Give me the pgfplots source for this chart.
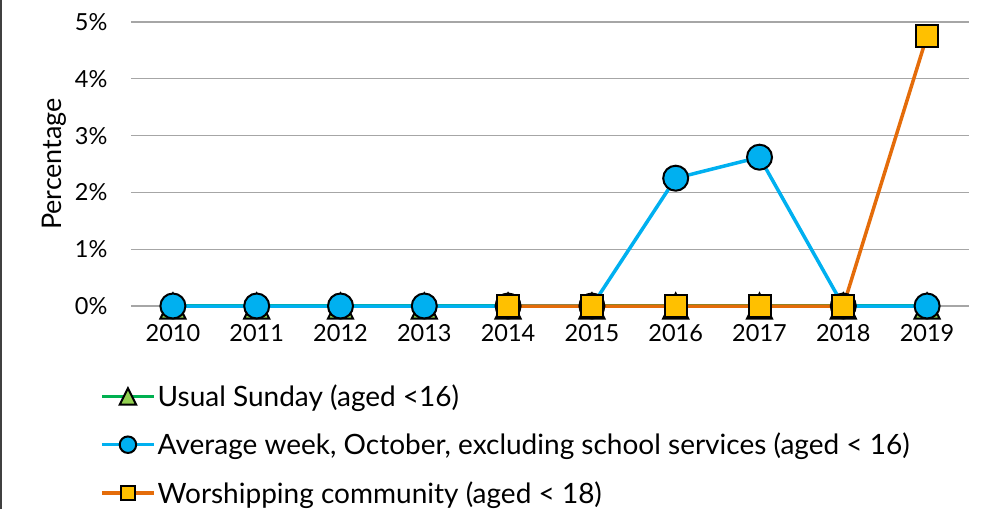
\documentclass[border=0pt]{standalone}
\usepackage{pgfplots}
\pgfplotsset{compat=1.18}
\usepackage{fontspec}
\setmainfont{Lato}
\definecolor{gridgray}{HTML}{A6A6A6}
\definecolor{sgreen}{HTML}{00B050}
\definecolor{tgreen}{HTML}{92D050}
\definecolor{sblue}{HTML}{00B0F0}
\definecolor{sorange}{HTML}{E46C0A}
\definecolor{syellow}{HTML}{FFC000}
\pgfdeclareplotmark{xltri}{%
  \pgfpathmoveto{\pgfqpoint{0pt}{\pgfplotmarksize}}%
  \pgfpathlineto{\pgfqpoint{-\pgfplotmarksize}{-\pgfplotmarksize}}%
  \pgfpathlineto{\pgfqpoint{\pgfplotmarksize}{-\pgfplotmarksize}}%
  \pgfpathclose
  \pgfusepathqfillstroke}
\begin{document}
\begin{tikzpicture}
\useasboundingbox (-131pt,-203pt) rectangle (856pt,306pt);
\draw[line width=2pt, color=black!75] (-130pt,-203pt) -- (-130pt,306pt);
\begin{axis}[
  at={(0pt,0pt)}, anchor=south west,
  scale only axis, width=838pt, height=284pt,
  xmin=-0.5, xmax=9.5, ymin=0, ymax=5,
  xtick={0,...,9},
  xticklabels={2010,2011,2012,2013,2014,2015,2016,2017,2018,2019},
  ytick={0,1,2,3,4,5},
  yticklabel={\pgfmathprintnumber{\tick}\%},
  /pgf/number format/assume math mode=true,
  axis line style={draw=none},
  axis x line*=bottom,
  axis y line*=left,
  major tick length=0pt,
  ymajorgrids, grid style={gridgray, line width=1.3pt},
  tick label style={font=\fontsize{23.5}{27}\selectfont, text=black},
  yticklabel style={xshift=-20pt},
  xticklabel style={yshift=-15pt},
  ylabel={Percentage},
  ylabel style={font=\fontsize{27}{30}\selectfont, at={(axis description cs:-0.092,0.5)}, anchor=center},
  clip=false,
  legend cell align=left,
  legend style={at={(axis description cs:-0.037,-0.27)}, anchor=north west, draw=none, fill=none,
    font=\fontsize{28}{32}\selectfont, row sep=21pt, inner sep=0pt},
  legend image code/.code={\draw[mark repeat=2,mark phase=2,#1] plot coordinates {(0pt,0pt) (26pt,0pt) (52pt,0pt)};},
  legend image post style={every mark/.append style={scale=0.66}},
]
\addplot[sgreen, line width=3.5pt, mark=xltri, mark size=12.5pt, mark options={fill=tgreen, draw=black, line width=2pt}]
  coordinates {(0,0) (1,0) (2,0) (3,0) (4,0) (5,0) (6,0) (7,0) (8,0) (9,0)};
\addlegendentry{Usual Sunday (aged <16)}
\addplot[sblue, line width=3.5pt, mark=*, mark size=12.5pt, mark options={fill=sblue, draw=black, line width=2pt}]
  coordinates {(0,0) (1,0) (2,0) (3,0) (4,0) (5,0) (6,2.25) (7,2.62) (8,0) (9,0)};
\addlegendentry{Average week, October, excluding school services (aged < 16)}
\addplot[sorange, line width=3.5pt, mark=square*, mark size=11pt, mark options={fill=syellow, draw=black, line width=2pt}]
  coordinates {(4,0) (5,0) (6,0) (7,0) (8,0) (9,4.76)};
\addlegendentry{Worshipping community (aged < 18)}
\end{axis}
\end{tikzpicture}
\end{document}
